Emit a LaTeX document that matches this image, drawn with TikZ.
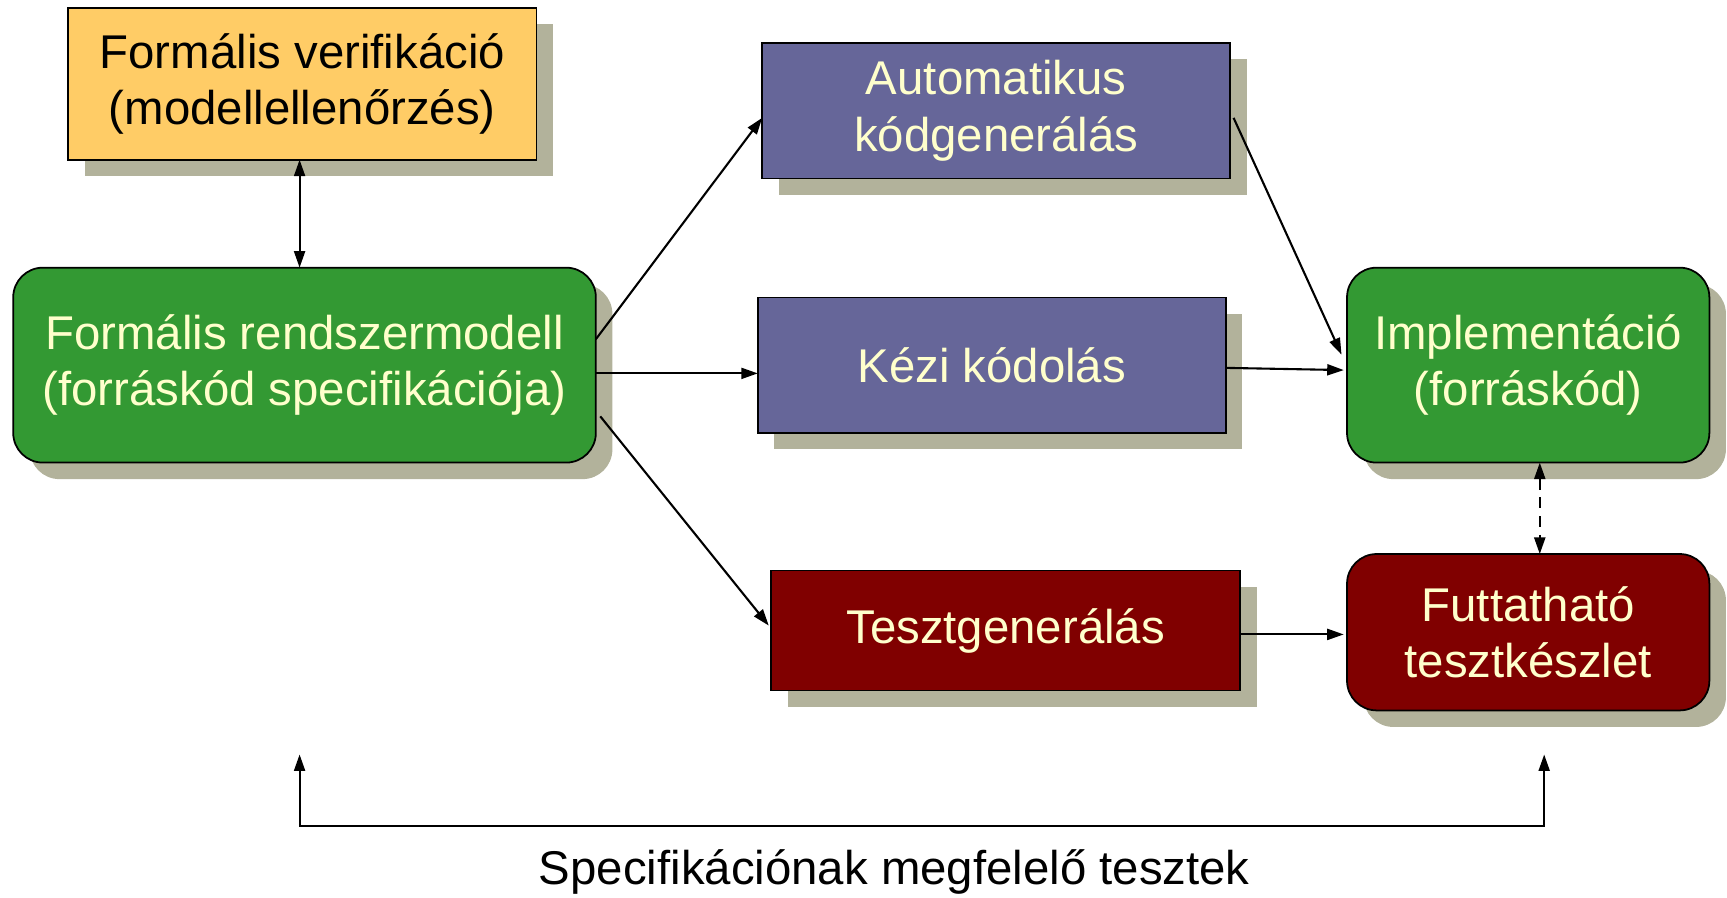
\documentclass[tikz,border=0pt]{standalone}
\usepackage{fontspec}
\setmainfont{Liberation Sans}
\usetikzlibrary{arrows.meta,shadows}
\definecolor{yel}{HTML}{FFCC66}
\definecolor{grn}{HTML}{339933}
\definecolor{pur}{HTML}{666699}
\definecolor{dred}{HTML}{800000}
\definecolor{txt}{HTML}{FFFFCC}
\definecolor{shd}{HTML}{B2B29B}
\begin{document}
\begin{tikzpicture}[x=1pt,y=-1pt,
  base/.style={draw=black, line width=1.6pt, inner sep=0pt, outer sep=0pt, align=center,
    font=\fontsize{43}{51}\selectfont,
    drop shadow={shadow xshift=15pt, shadow yshift=-15pt, fill=shd, opacity=1}},
  sq/.style={base},
  rnd/.style={base, rounded corners=27pt},
  arr/.style={draw, line width=1.9pt, -{Triangle[length=15pt,width=10pt]}},
  darr/.style={draw, line width=1.9pt, {Triangle[length=15pt,width=10pt]}-{Triangle[length=15pt,width=10pt]}}
]
\useasboundingbox (0,0) rectangle (1568,815);

\node[sq, fill=yel, text=black, minimum width=425pt, minimum height=138pt] (ver) at (274.5,76) {Formális verifikáció\\(modellellenőrzés)};
\node[rnd, fill=grn, text=txt, minimum width=529pt, minimum height=177pt] (mod) at (276.5,331.5) {Formális rendszermodell\\(forráskód specifikációja)};
\node[sq, fill=pur, text=txt, minimum width=425pt, minimum height=123pt] (auto) at (904.5,100.5) {Automatikus\\kódgenerálás};
\node[sq, fill=pur, text=txt, minimum width=425pt, minimum height=123pt] (kezi) at (900.5,331.5) {Kézi kódolás};
\node[sq, fill=dred, text=txt, minimum width=426pt, minimum height=109pt] (teszt) at (913,572.5) {Tesztgenerálás};
\node[rnd, fill=grn, text=txt, minimum width=329pt, minimum height=177pt] (impl) at (1387.5,331.5) {Implementáció\\(forráskód)};
\node[rnd, fill=dred, text=txt, minimum width=329pt, minimum height=142pt] (futt) at (1387.5,574) {Futtatható\\tesztkészlet};

\draw[darr] ([xshift=-2.5pt]ver.south) -- ([xshift=-4.5pt]mod.north);
\draw[arr] ([yshift=23.5pt]mod.east) -- ([yshift=-6.5pt]auto.west);
\draw[arr] ([yshift=-7.5pt]mod.east) -- ([yshift=-7.5pt]kezi.west);
\draw[arr] ([xshift=4pt,yshift=-46.5pt]mod.east) -- ([xshift=-2pt,yshift=4.5pt]teszt.west);
\draw[arr] ([xshift=3pt,yshift=-6.5pt]auto.east) -- ([xshift=-5pt,yshift=9.5pt]impl.west);
\draw[arr] ([yshift=-2.5pt]kezi.east) -- ([xshift=-3pt,yshift=-4.5pt]impl.west);
\draw[arr] ([yshift=-3.5pt]teszt.east) -- ([xshift=-3pt,yshift=-2pt]futt.west);
\draw[darr, dash pattern=on 10pt off 7pt] ([xshift=10.5pt]impl.south) -- ([xshift=10.5pt]futt.north);

\coordinate (bl) at (272,685);
\coordinate (br) at (1402,685);
\draw[darr] (bl) -- (272,750) -- (1402,750) -- (br);
\node[font=\fontsize{43}{51}\selectfont, text=black, inner sep=0pt] (lab) at (812,792) {Specifikációnak megfelelő tesztek};
\end{tikzpicture}
\end{document}
